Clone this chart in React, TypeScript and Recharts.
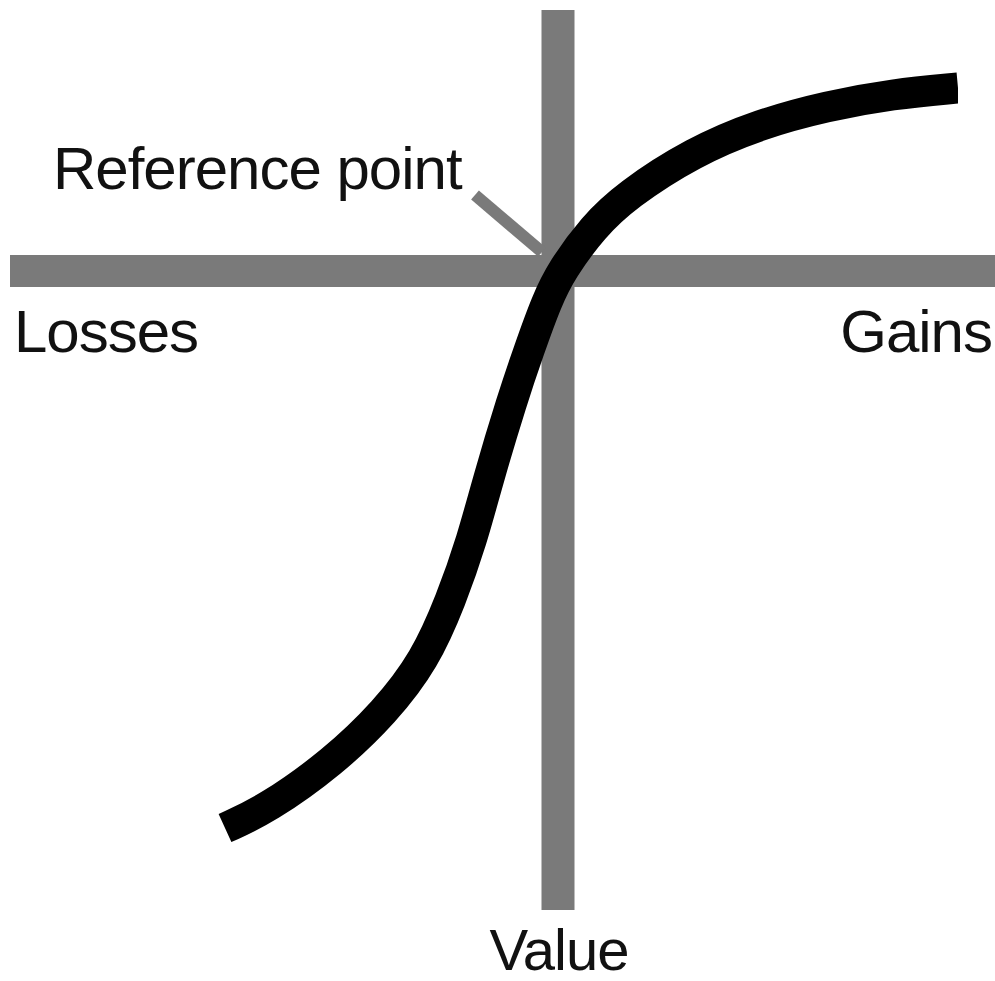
import { LineChart, Line, XAxis, YAxis, ReferenceLine } from 'recharts';

// value function curve: outcome (losses < 0 < gains) vs. subjective value
const outcome = [
  -3.33, -2.91, -2.25, -1.73, -1.33, -1.07, -0.86, -0.7, -0.46, -0.29, -0.11,
  0.04, 0.35, 0.69, 1.35, 2.02, 2.69, 3.35, 4.0,
];
const value = [
  -5.57, -5.38, -4.91, -4.41, -3.89, -3.29, -2.69, -2.09, -1.29, -0.79, -0.29,
  0.01, 0.44, 0.76, 1.19, 1.47, 1.65, 1.77, 1.83,
];

// axis bars and the pointer to the reference point
const xAxisBar = [-5.48, 4.37];
const yAxisBar = [2.61, -6.39];
const pointer = [
  { x: -0.83, y: 0.76 },
  { x: -0.16, y: 0.19 },
];

const labels = {
  reference: 'Reference point',
  losses: 'Losses',
  gains: 'Gains',
  value: 'Value',
};

const GRAY = '#7a7a7a';
const FONT = '"Liberation Sans", Arial, Helvetica, sans-serif';

const curve = outcome.map((x, i) => ({ x, v: value[i] }));

export default function App() {
  const textStyle = { fontFamily: FONT, fontSize: 60, letterSpacing: -1, fill: '#111' };

  return (
    <div style={{ position: 'absolute', left: 0, top: 0, background: '#fff' }}>
      <LineChart
        width={995}
        height={981}
        data={curve}
        margin={{ top: 71, right: 37, bottom: 110, left: 58 }}
      >
        <XAxis type="number" dataKey="x" domain={[-5, 4]} hide allowDataOverflow />
        <YAxis type="number" domain={[-6, 2]} hide allowDataOverflow />
        <ReferenceLine
          segment={[
            { x: xAxisBar[0], y: 0 },
            { x: xAxisBar[1], y: 0 },
          ]}
          stroke={GRAY}
          strokeWidth={32}
          ifOverflow="visible"
        />
        <ReferenceLine
          segment={[
            { x: 0, y: yAxisBar[0] },
            { x: 0, y: yAxisBar[1] },
          ]}
          stroke={GRAY}
          strokeWidth={33}
          ifOverflow="visible"
        />
        <ReferenceLine segment={pointer} stroke={GRAY} strokeWidth={12} ifOverflow="visible" />
        <Line
          type="basis"
          dataKey="v"
          stroke="#000"
          strokeWidth={31}
          dot={false}
          activeDot={false}
          isAnimationActive={false}
        />
        <text x={53} y={189} style={textStyle}>
          {labels.reference}
        </text>
        <text x={14} y={352} style={textStyle}>
          {labels.losses}
        </text>
        <text x={992} y={352} textAnchor="end" style={textStyle}>
          {labels.gains}
        </text>
        <text x={559} y={970} textAnchor="middle" style={{ ...textStyle, fontSize: 58 }}>
          {labels.value}
        </text>
      </LineChart>
    </div>
  );
}
